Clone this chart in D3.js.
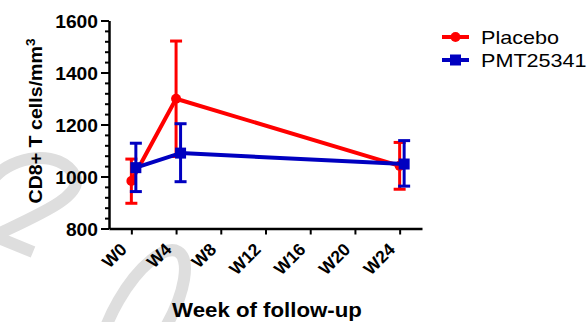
<!DOCTYPE html>
<html>
<head>
<meta charset="utf-8">
<script src="https://cdn.jsdelivr.net/npm/d3@7"></script>
<style>
  body { margin: 0; background: #fff; }
  svg { display: block; }
  text { font-family: "Liberation Sans", Arial, sans-serif; }
</style>
</head>
<body>
<script>
// data
const weeks = [0, 4, 24];
const placeboMean = [983, 1299, 1041];
const placeboLow = [897, 1077, 951];
const placeboHigh = [1067, 1521, 1131];
const pmtMean = [1034, 1090, 1048];
const pmtLow = [942, 980, 963];
const pmtHigh = [1128, 1203, 1138];

const xTicks = [0, 4, 8, 12, 16, 20, 24];
const xTickLabels = ["W0", "W4", "W8", "W12", "W16", "W20", "W24"];
const yTicks = [800, 1000, 1200, 1400, 1600];
const seriesNames = ["Placebo", "PMT25341"];

const width = 588;
const height = 322;
const font = '"Liberation Sans", Arial, sans-serif';

const svg = d3.select('body').append('svg')
    .attr('width', width)
    .attr('height', height);

svg.append('rect')
    .attr('width', width)
    .attr('height', height)
    .style('fill', '#fff');

// faint watermark strokes behind the chart
const wm = svg.append('g')
    .style('fill', 'none')
    .style('stroke', '#dedede')
    .style('stroke-width', 12);
wm.append('path')
    .attr('d', 'M-6,178 C12,156 60,148 75,176 C84,196 40,214 -6,236 L33,252');
wm.append('ellipse')
    .attr('cx', 0).attr('cy', 0)
    .attr('rx', 27).attr('ry', 72)
    .attr('transform', 'translate(142,314) rotate(30)');

const x = d3.scaleLinear().domain([-2, 26]).range([109, 422]);
const y = d3.scaleLinear().domain([800, 1600]).range([228.5, 20.5]);

// y axis with minor ticks
svg.append('g')
    .attr('transform', 'translate(109,0)')
    .call(d3.axisLeft(y).tickValues(d3.range(800, 1601, 40)).tickSize(4).tickFormat(''))
    .call(g => g.select('.domain').remove())
    .call(g => g.selectAll('line').style('stroke', '#000').style('stroke-width', 2));

const yAxis = svg.append('g')
    .attr('transform', 'translate(109,0)')
    .call(d3.axisLeft(y).tickValues(yTicks).tickSize(8).tickSizeOuter(0).tickFormat(d3.format('d')));
yAxis.select('.domain').style('stroke', '#000').style('stroke-width', 2.5);
yAxis.selectAll('line').style('stroke', '#000').style('stroke-width', 2);
yAxis.selectAll('text')
    .attr('x', null).attr('dy', null)
    .attr('transform', 'translate(-11,6.5) scale(1.1,1)')
    .style('font-family', font)
    .style('font-size', '17.5px')
    .style('font-weight', 'bold')
    .style('fill', '#000');

const xAxis = svg.append('g')
    .attr('transform', 'translate(0,228.5)')
    .call(d3.axisBottom(x).tickValues(xTicks).tickSize(6).tickSizeOuter(0)
        .tickFormat((d, i) => xTickLabels[i]));
xAxis.select('.domain').style('stroke', '#000').style('stroke-width', 2.5);
xAxis.selectAll('line').style('stroke', '#000').style('stroke-width', 2);
xAxis.selectAll('text')
    .attr('y', null).attr('dy', null)
    .attr('transform', 'translate(-4,22) rotate(-45)')
    .style('text-anchor', 'end')
    .style('font-family', font)
    .style('font-size', '17.5px')
    .style('font-weight', 'bold')
    .style('fill', '#000');

// axis titles
svg.append('text')
    .attr('transform', 'translate(42,121) rotate(-90) scale(1.09,1)')
    .style('text-anchor', 'middle')
    .style('font-size', '18px')
    .style('font-weight', 'bold')
    .text('CD8+ T cells/mm')
    .append('tspan')
    .attr('dy', -7)
    .style('font-size', '12.5px')
    .text('3');

svg.append('text')
    .attr('transform', 'translate(267,316.5) scale(1.06,1)')
    .style('text-anchor', 'middle')
    .style('font-size', '21px')
    .style('font-weight', 'bold')
    .text('Week of follow-up');

// series
function drawSeries(mean, low, high, color, dx, marker) {
    const g = svg.append('g');
    const pts = weeks.map((w, i) => ({ w, m: mean[i], lo: low[i], hi: high[i] }));
    const cap = 6;
    pts.forEach(p => {
        const px = x(p.w) + dx;
        g.append('line')
            .attr('x1', px).attr('x2', px)
            .attr('y1', y(p.lo)).attr('y2', y(p.hi))
            .style('stroke', color).style('stroke-width', 3);
        [p.lo, p.hi].forEach(v => {
            g.append('line')
                .attr('x1', px - cap).attr('x2', px + cap)
                .attr('y1', y(v)).attr('y2', y(v))
                .style('stroke', color).style('stroke-width', 3);
        });
    });
    g.append('path')
        .datum(pts)
        .attr('d', d3.line().x(p => x(p.w) + dx).y(p => y(p.m)))
        .style('fill', 'none')
        .style('stroke', color)
        .style('stroke-width', 4)
        .style('stroke-linejoin', 'round');
    pts.forEach(p => marker(g, x(p.w) + dx, y(p.m), color));
}

const circle = (g, cx, cy, color) => g.append('circle')
    .attr('cx', cx).attr('cy', cy).attr('r', 5).style('fill', color);
const square = (g, cx, cy, color) => g.append('rect')
    .attr('x', cx - 5.5).attr('y', cy - 5.5).attr('width', 11).attr('height', 11).style('fill', color);

drawSeries(placeboMean, placeboLow, placeboHigh, '#ff0000', 0, circle);
drawSeries(pmtMean, pmtLow, pmtHigh, '#0000c0', 4.5, square);

// legend
const legendColors = ['#ff0000', '#0000c0'];
const legendMarkers = [circle, square];
seriesNames.forEach((name, i) => {
    const ly = 37 + i * 23;
    const g = svg.append('g');
    g.append('line')
        .attr('x1', 442).attr('x2', 469)
        .attr('y1', ly).attr('y2', ly)
        .style('stroke', legendColors[i]).style('stroke-width', 4);
    legendMarkers[i](g, 455.5, ly, legendColors[i]);
    g.append('text')
        .attr('transform', `translate(481,${ly + 6.5}) scale(1.2,1)`)
        .style('font-size', '18px')
        .style('fill', '#000')
        .text(name);
});
</script>
</body>
</html>
